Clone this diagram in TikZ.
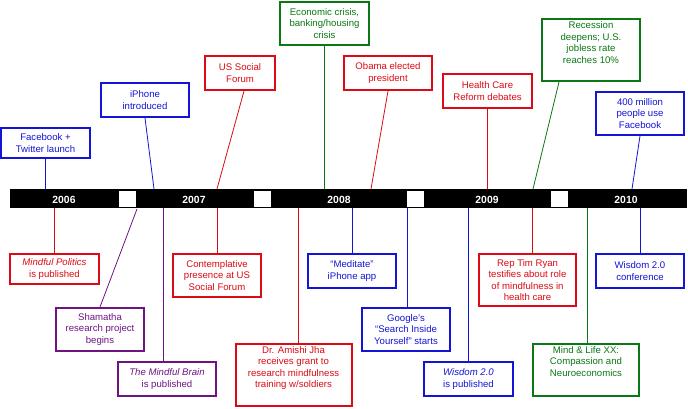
\documentclass[tikz,border=0pt]{standalone}
\usepackage{fontspec}
\setmainfont{Liberation Sans}
\definecolor{tblue}{RGB}{20,20,215}
\definecolor{tred}{RGB}{220,10,20}
\definecolor{tgreen}{RGB}{10,120,20}
\definecolor{tpurple}{RGB}{110,20,130}
\begin{document}
\begin{tikzpicture}[x=1pt,y=-1pt,
  ev/.style={draw, line width=2pt, fill=white, inner sep=0pt, align=center,
    font=\fontsize{9.6}{11.5}\selectfont},
  bl/.style={ev, draw=tblue, text=tblue},
  rd/.style={ev, draw=tred, text=tred},
  gr/.style={ev, draw=tgreen, text=tgreen},
  pu/.style={ev, draw=tpurple, text=tpurple},
  lk/.style={line width=0.8pt},
  yr/.style={text=white, font=\bfseries\fontsize{10.4}{11}\selectfont, inner sep=0pt},
  sq/.style={fill=white, draw=none, minimum width=17pt, minimum height=16pt, inner sep=0pt}
]
\useasboundingbox (0,0) rectangle (688,409);

% bar
\node[fill=black, draw=none, minimum width=677pt, minimum height=19pt, inner sep=0pt] (bar) at (348.5,198.5) {};
\node[sq] (s1) at (127.5,199) {};
\node[sq] (s2) at (262.5,199) {};
\node[sq] (s3) at (415.5,199) {};
\node[sq] (s4) at (559.5,199) {};
\node[yr] (y6) at (64,199.5) {2006};
\node[yr] (y7) at (194,199.5) {2007};
\node[yr] (y8) at (339,199.5) {2008};
\node[yr] (y9) at (487,199.5) {2009};
\node[yr] (y10) at (626,199.5) {2010};

% top events
\node[bl, minimum width=89pt, minimum height=30pt] (fb) at (45.5,143) {Facebook +\\Twitter launch};
\node[bl, minimum width=88pt, minimum height=34pt] (iph) at (145,100) {iPhone\\introduced};
\node[rd, minimum width=70pt, minimum height=34pt] (usf) at (240,73) {US Social\\Forum};
\node[gr, minimum width=89pt, minimum height=43pt] (eco) at (324.5,23.5) {Economic crisis,\\banking/housing\\crisis};
\node[rd, minimum width=88pt, minimum height=34pt] (oba) at (388,73) {Obama elected\\president};
\node[rd, minimum width=89pt, minimum height=34pt] (hcr) at (487.5,91) {Health Care\\Reform debates};
\node[gr, minimum width=98pt, minimum height=62pt] (rec) at (591,50) {Recession\\deepens; U.S.\\jobless rate\\reaches 10\%\\[3pt]};
\node[bl, minimum width=88pt, minimum height=43pt] (fbm) at (640,113.5) {400 million\\people use\\Facebook};

% bottom events
\node[rd, minimum width=89pt, minimum height=30pt] (mp) at (54.5,269) {\textit{Mindful Politics}\\is published};
\node[pu, minimum width=88pt, minimum height=43pt] (sha) at (100,329.5) {Shamatha\\research project\\begins};
\node[pu, minimum width=98pt, minimum height=34pt] (mb) at (167,379) {\textit{The Mindful Brain}\\is published};
\node[rd, minimum width=88pt, minimum height=43pt] (cp) at (217,275.5) {Contemplative\\presence at US\\Social Forum};
\node[rd, minimum width=116pt, minimum height=62pt] (jha) at (293.5,375) {Dr. Amishi Jha\\receives grant to\\research mindfulness\\training w/soldiers\\[4pt]};
\node[bl, minimum width=88pt, minimum height=34pt] (med) at (352,271) {``Meditate''\\iPhone app};
\node[bl, minimum width=88pt, minimum height=43pt] (goo) at (406,329.5) {Google's\\``Search Inside\\Yourself'' starts};
\node[bl, minimum width=89pt, minimum height=34pt] (wis) at (468.5,379) {\textit{Wisdom 2.0}\\is published};
\node[rd, minimum width=97pt, minimum height=52pt] (rya) at (527.5,280) {Rep Tim Ryan\\testifies about role\\of mindfulness in\\health care};
\node[gr, minimum width=106pt, minimum height=52pt] (mnl) at (586,370) {Mind \& Life XX:\\Compassion and\\Neuroeconomics\\[6pt]};
\node[bl, minimum width=88pt, minimum height=34pt] (wcf) at (640,271) {Wisdom 2.0\\conference};

% connector ends on bar
\coordinate (a1) at (154,189);
\coordinate (a2) at (217,189);
\coordinate (a3) at (371,189);
\coordinate (a4) at (533,189);
\coordinate (a5) at (632,189);
\coordinate (b1) at (137,209);

\draw[lk, tblue] (fb.south) -- (fb.south |- bar.north);
\draw[lk, tblue] (iph.south) -- (a1);
\draw[lk, tred] ([xshift=4pt]usf.south) -- (a2);
\draw[lk, tgreen] (eco.south) -- (eco.south |- bar.north);
\draw[lk, tred] (oba.south) -- (a3);
\draw[lk, tred] (hcr.south) -- (hcr.south |- bar.north);
\draw[lk, tgreen] ([xshift=-32pt]rec.south) -- (a4);
\draw[lk, tblue] (fbm.south) -- (a5);

\draw[lk, tred] (mp.north |- bar.south) -- (mp.north);
\draw[lk, tpurple] (b1) -- (sha.north);
\draw[lk, tpurple] ([xshift=-4pt]mb.north |- bar.south) -- ([xshift=-4pt]mb.north);
\draw[lk, tred] (cp.north |- bar.south) -- (cp.north);
\draw[lk, tred] ([xshift=4.5pt]jha.north |- bar.south) -- ([xshift=4.5pt]jha.north);
\draw[lk, tblue] (med.north |- bar.south) -- (med.north);
\draw[lk, tblue] ([xshift=1pt]goo.north |- bar.south) -- ([xshift=1pt]goo.north);
\draw[lk, tblue] (wis.north |- bar.south) -- (wis.north);
\draw[lk, tred] ([xshift=4.5pt]rya.north |- bar.south) -- ([xshift=4.5pt]rya.north);
\draw[lk, tgreen] ([xshift=1pt]mnl.north |- bar.south) -- ([xshift=1pt]mnl.north);
\draw[lk, tblue] (wcf.north |- bar.south) -- (wcf.north);
\end{tikzpicture}
\end{document}
